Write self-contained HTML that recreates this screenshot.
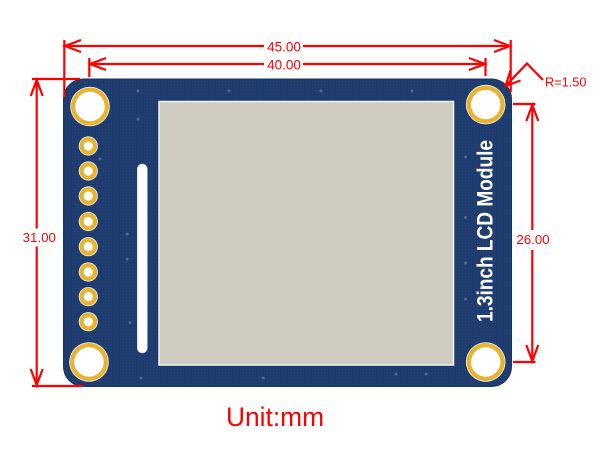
<!DOCTYPE html>
<html>
<head>
<meta charset="utf-8">
<style>
  html,body{margin:0;padding:0;background:#fff;}
  body{width:600px;height:466px;overflow:hidden;}
  svg{display:block;}
  .dim{font-family:"Liberation Sans",Arial,sans-serif;fill:#ff0000;}
</style>
</head>
<body>
<svg width="600" height="466" viewBox="0 0 600 466" xmlns="http://www.w3.org/2000/svg">
  <defs>
    <pattern id="tex" width="3" height="3" patternUnits="userSpaceOnUse">
      <rect width="3" height="3" fill="#1e3c6e"/>
      <rect x="0" y="0" width="1" height="1" fill="#25457a"/>
    </pattern>
  </defs>

  <!-- Board -->
  <rect x="63.5" y="79" width="448" height="307.5" rx="20" ry="20" fill="url(#tex)" stroke="#183460" stroke-width="1"/>

  <!-- vias -->
  <g fill="#4b6a98">
    <circle cx="138" cy="91" r="1.5"/><circle cx="229" cy="91" r="1.5"/>
    <circle cx="321" cy="91" r="1.5"/><circle cx="412" cy="91" r="1.5"/>
    <circle cx="138" cy="119" r="1.5"/><circle cx="100" cy="159" r="1.5"/>
    <circle cx="127" cy="234" r="1.5"/><circle cx="127" cy="259" r="1.5"/>
    <circle cx="130" cy="322.5" r="1.5"/><circle cx="141" cy="378" r="1.5"/>
    <circle cx="263" cy="378" r="1.5"/><circle cx="396" cy="374" r="1.5"/>
    <circle cx="426" cy="374" r="1.5"/>
    <circle cx="465.5" cy="157" r="1.5"/><circle cx="465.5" cy="217.5" r="1.5"/>
    <circle cx="465.5" cy="263" r="1.5"/><circle cx="465.5" cy="299" r="1.5"/>
  </g>

  <!-- LCD -->
  <rect x="159" y="101.5" width="294.5" height="263.5" fill="#d0ccc1" stroke="#f4f3ef" stroke-width="1.5"/>

  <!-- slot -->
  <rect x="137.3" y="164" width="10" height="189" rx="5" ry="5" fill="#ffffff" stroke="#c9d0dc" stroke-width="0.6"/>

  <!-- mounting holes -->
  <g>
    <circle cx="90" cy="106.5" r="19.8" fill="#f2f0e6"/>
    <circle cx="90" cy="106.5" r="19" fill="#e6b431"/>
    <circle cx="90" cy="106.5" r="14.7" fill="#ffffff"/>

    <circle cx="485.7" cy="104.6" r="19.8" fill="#f2f0e6"/>
    <circle cx="485.7" cy="104.6" r="19" fill="#e6b431"/>
    <circle cx="485.7" cy="104.6" r="14.7" fill="#ffffff"/>

    <circle cx="89" cy="362" r="19.8" fill="#f2f0e6"/>
    <circle cx="89" cy="362" r="19" fill="#e6b431"/>
    <circle cx="89" cy="362" r="14.7" fill="#ffffff"/>

    <circle cx="485.7" cy="362" r="19.8" fill="#f2f0e6"/>
    <circle cx="485.7" cy="362" r="19" fill="#e6b431"/>
    <circle cx="485.7" cy="362" r="14.7" fill="#ffffff"/>
  </g>

  <!-- pin pads -->
  <g>
    <g transform="translate(88.3,146)"><circle r="9.6" fill="#f2f0e6"/><circle r="8.8" fill="#e6b431"/><circle r="4.6" fill="#fff"/></g>
    <g transform="translate(88.3,171)"><circle r="9.6" fill="#f2f0e6"/><circle r="8.8" fill="#e6b431"/><circle r="4.6" fill="#fff"/></g>
    <g transform="translate(88.3,196)"><circle r="9.6" fill="#f2f0e6"/><circle r="8.8" fill="#e6b431"/><circle r="4.6" fill="#fff"/></g>
    <g transform="translate(88.3,221.5)"><circle r="9.6" fill="#f2f0e6"/><circle r="8.8" fill="#e6b431"/><circle r="4.6" fill="#fff"/></g>
    <g transform="translate(88.3,246.7)"><circle r="9.6" fill="#f2f0e6"/><circle r="8.8" fill="#e6b431"/><circle r="4.6" fill="#fff"/></g>
    <g transform="translate(88.3,272)"><circle r="9.6" fill="#f2f0e6"/><circle r="8.8" fill="#e6b431"/><circle r="4.6" fill="#fff"/></g>
    <g transform="translate(88.3,296.7)"><circle r="9.6" fill="#f2f0e6"/><circle r="8.8" fill="#e6b431"/><circle r="4.6" fill="#fff"/></g>
    <g transform="translate(88.3,321.7)"><circle r="9.6" fill="#f2f0e6"/><circle r="8.8" fill="#e6b431"/><circle r="4.6" fill="#fff"/></g>
  </g>

  <!-- vertical board label -->
  <text transform="translate(492.5,231) rotate(-90)" text-anchor="middle" font-family="Liberation Sans, Arial, sans-serif" font-weight="bold" font-size="22" fill="#ffffff" textLength="182" lengthAdjust="spacingAndGlyphs">1.3inch LCD Module</text>

  <!-- Dimension lines -->
  <g stroke="#ff0000" stroke-width="2.2" fill="none" stroke-linecap="butt">
    <!-- 45.00 -->
    <line x1="64.3" y1="40" x2="64.3" y2="97"/>
    <line x1="510.7" y1="40" x2="510.7" y2="92"/>
    <line x1="64.3" y1="46" x2="264" y2="46"/>
    <line x1="303" y1="46" x2="510.7" y2="46"/>
    <polyline points="81,40 65,46 81,52"/>
    <polyline points="494,40 510,46 494,52"/>

    <!-- 40.00 -->
    <line x1="89.3" y1="58" x2="89.3" y2="77"/>
    <line x1="485.5" y1="58" x2="485.5" y2="76"/>
    <line x1="89.3" y1="64" x2="264" y2="64"/>
    <line x1="303" y1="64" x2="485.5" y2="64"/>
    <polyline points="106,58 90,64 106,70"/>
    <polyline points="469,58 485,64 469,70"/>

    <!-- 31.00 -->
    <line x1="32" y1="79" x2="80" y2="79"/>
    <line x1="32" y1="386" x2="83" y2="386"/>
    <line x1="36.7" y1="79" x2="36.7" y2="228.5"/>
    <line x1="36.7" y1="246.5" x2="36.7" y2="386"/>
    <polyline points="30.7,96 36.7,80 42.7,96"/>
    <polyline points="30.7,369 36.7,385 42.7,369"/>

    <!-- 26.00 -->
    <line x1="513" y1="104" x2="535.5" y2="104"/>
    <line x1="513" y1="362" x2="535.5" y2="362"/>
    <line x1="532.3" y1="104" x2="532.3" y2="230"/>
    <line x1="532.3" y1="250" x2="532.3" y2="362"/>
    <polyline points="526.3,121 532.3,105 538.3,121"/>
    <polyline points="526.3,345 532.3,361 538.3,345"/>

    <!-- R=1.50 leader -->
    <polyline points="543,80 527,63.5 505.5,86"/>
    <polyline points="510.5,70.5 505.5,86 520.5,80.5"/>
  </g>

  <!-- Dimension text -->
  <text class="dim" x="284" y="51.5" font-size="13.5" text-anchor="middle">45.00</text>
  <text class="dim" x="284" y="69.5" font-size="13.5" text-anchor="middle">40.00</text>
  <text class="dim" x="39.3" y="241.8" font-size="13.3" text-anchor="middle">31.00</text>
  <text class="dim" x="533" y="244" font-size="13.3" text-anchor="middle">26.00</text>
  <text class="dim" x="545" y="86.7" font-size="13" textLength="41.5" lengthAdjust="spacingAndGlyphs">R=1.50</text>

  <!-- Unit -->
  <text class="dim" x="226" y="426" font-size="27" textLength="98" lengthAdjust="spacingAndGlyphs">Unit:mm</text>
</svg>
</body>
</html>
